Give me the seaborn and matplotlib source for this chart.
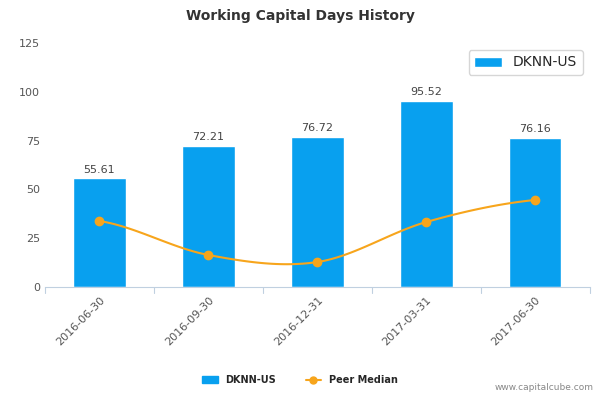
import numpy as np
import pandas as pd
import matplotlib
matplotlib.use("Agg")
import matplotlib.pyplot as plt
import seaborn as sns

dates = ["2016-06-30", "2016-09-30", "2016-12-31", "2017-03-31", "2017-06-30"]
company_days = [55.61, 72.21, 76.72, 95.52, 76.16]
peer_median = [33.8, 16.4, 12.8, 33.3, 44.6]

bar_color = "#08a0ef"
line_color = "#f7a51c"

sns.set_style("white")
plt.rcParams['font.family'] = ['DejaVu Sans']

fig = plt.figure(figsize=(6, 4), dpi=100)
ax = fig.add_axes([0.075, 0.2825, 0.908, 0.61])

df = pd.DataFrame({"date": dates, "days": company_days})
sns.barplot(data=df, x="date", y="days", color=bar_color, width=0.48,
            saturation=1, ax=ax, label="DKNN-US")

for i, v in enumerate(company_days):
    ax.text(i, v + 2, f"{v:.2f}", ha="center", va="bottom", fontsize=8, color="#444444")

# smooth curve through peer points (Catmull-Rom, drawing only)
x = np.arange(len(peer_median), dtype=float)
y = np.array(peer_median)
px = np.concatenate([[x[0] - (x[1] - x[0])], x, [x[-1] + (x[-1] - x[-2])]])
py = np.concatenate([[y[0]], y, [y[-1]]])
cx, cy = [], []
for k in range(1, len(px) - 2):
    t = np.linspace(0, 1, 30)
    for arr, out in ((px, cx), (py, cy)):
        p0, p1, p2, p3 = arr[k - 1], arr[k], arr[k + 1], arr[k + 2]
        out.extend(0.5 * (2 * p1 + (-p0 + p2) * t + (2 * p0 - 5 * p1 + 4 * p2 - p3) * t**2
                          + (-p0 + 3 * p1 - 3 * p2 + p3) * t**3))
ax.plot(cx, cy, color=line_color, lw=1.5)
ax.plot(x, y, "o", color=line_color, ms=6, label="Peer Median")

ax.set_ylim(0, 125)
ax.set_yticks([0, 25, 50, 75, 100, 125])
ax.set_xlim(-0.5, 4.5)
ax.set_xlabel("")
ax.set_ylabel("")
ax.tick_params(axis="y", labelsize=8, colors="#555555", length=0)
ax.set_xticks(range(len(dates)))
ax.set_xticklabels(dates, rotation=45, ha="right", rotation_mode="anchor",
                   fontsize=8, color="#555555")
ax.tick_params(axis="x", length=0, pad=6)
for b in np.arange(-0.5, 5, 1.0):
    ax.plot([b, b], [0, -3], color="#c0d0e0", lw=0.8, clip_on=False)
for s in ["top", "right", "left"]:
    ax.spines[s].set_visible(False)
ax.spines["bottom"].set_color("#c0d0e0")

fig.text(0.5, 0.96, "Working Capital Days History", ha="center", va="center",
         fontsize=10, fontweight="bold", color="#333333")

handles, labels = ax.get_legend_handles_labels()
from matplotlib.lines import Line2D
from matplotlib.patches import Patch
h = [Patch(color=bar_color), Line2D([0], [0], color=line_color, marker="o", ms=5)]
fig.legend(h, ["DKNN-US", "Peer Median"], loc="center", bbox_to_anchor=(0.5, 0.05),
           ncol=2, frameon=False, fontsize=7, prop={"weight": "bold", "size": 7},
           handlelength=1.6, columnspacing=3)
fig.text(0.99, 0.02, "www.capitalcube.com", ha="right", va="bottom",
         fontsize=6.5, color="#888888")

fig.savefig("out.png", dpi=100)
